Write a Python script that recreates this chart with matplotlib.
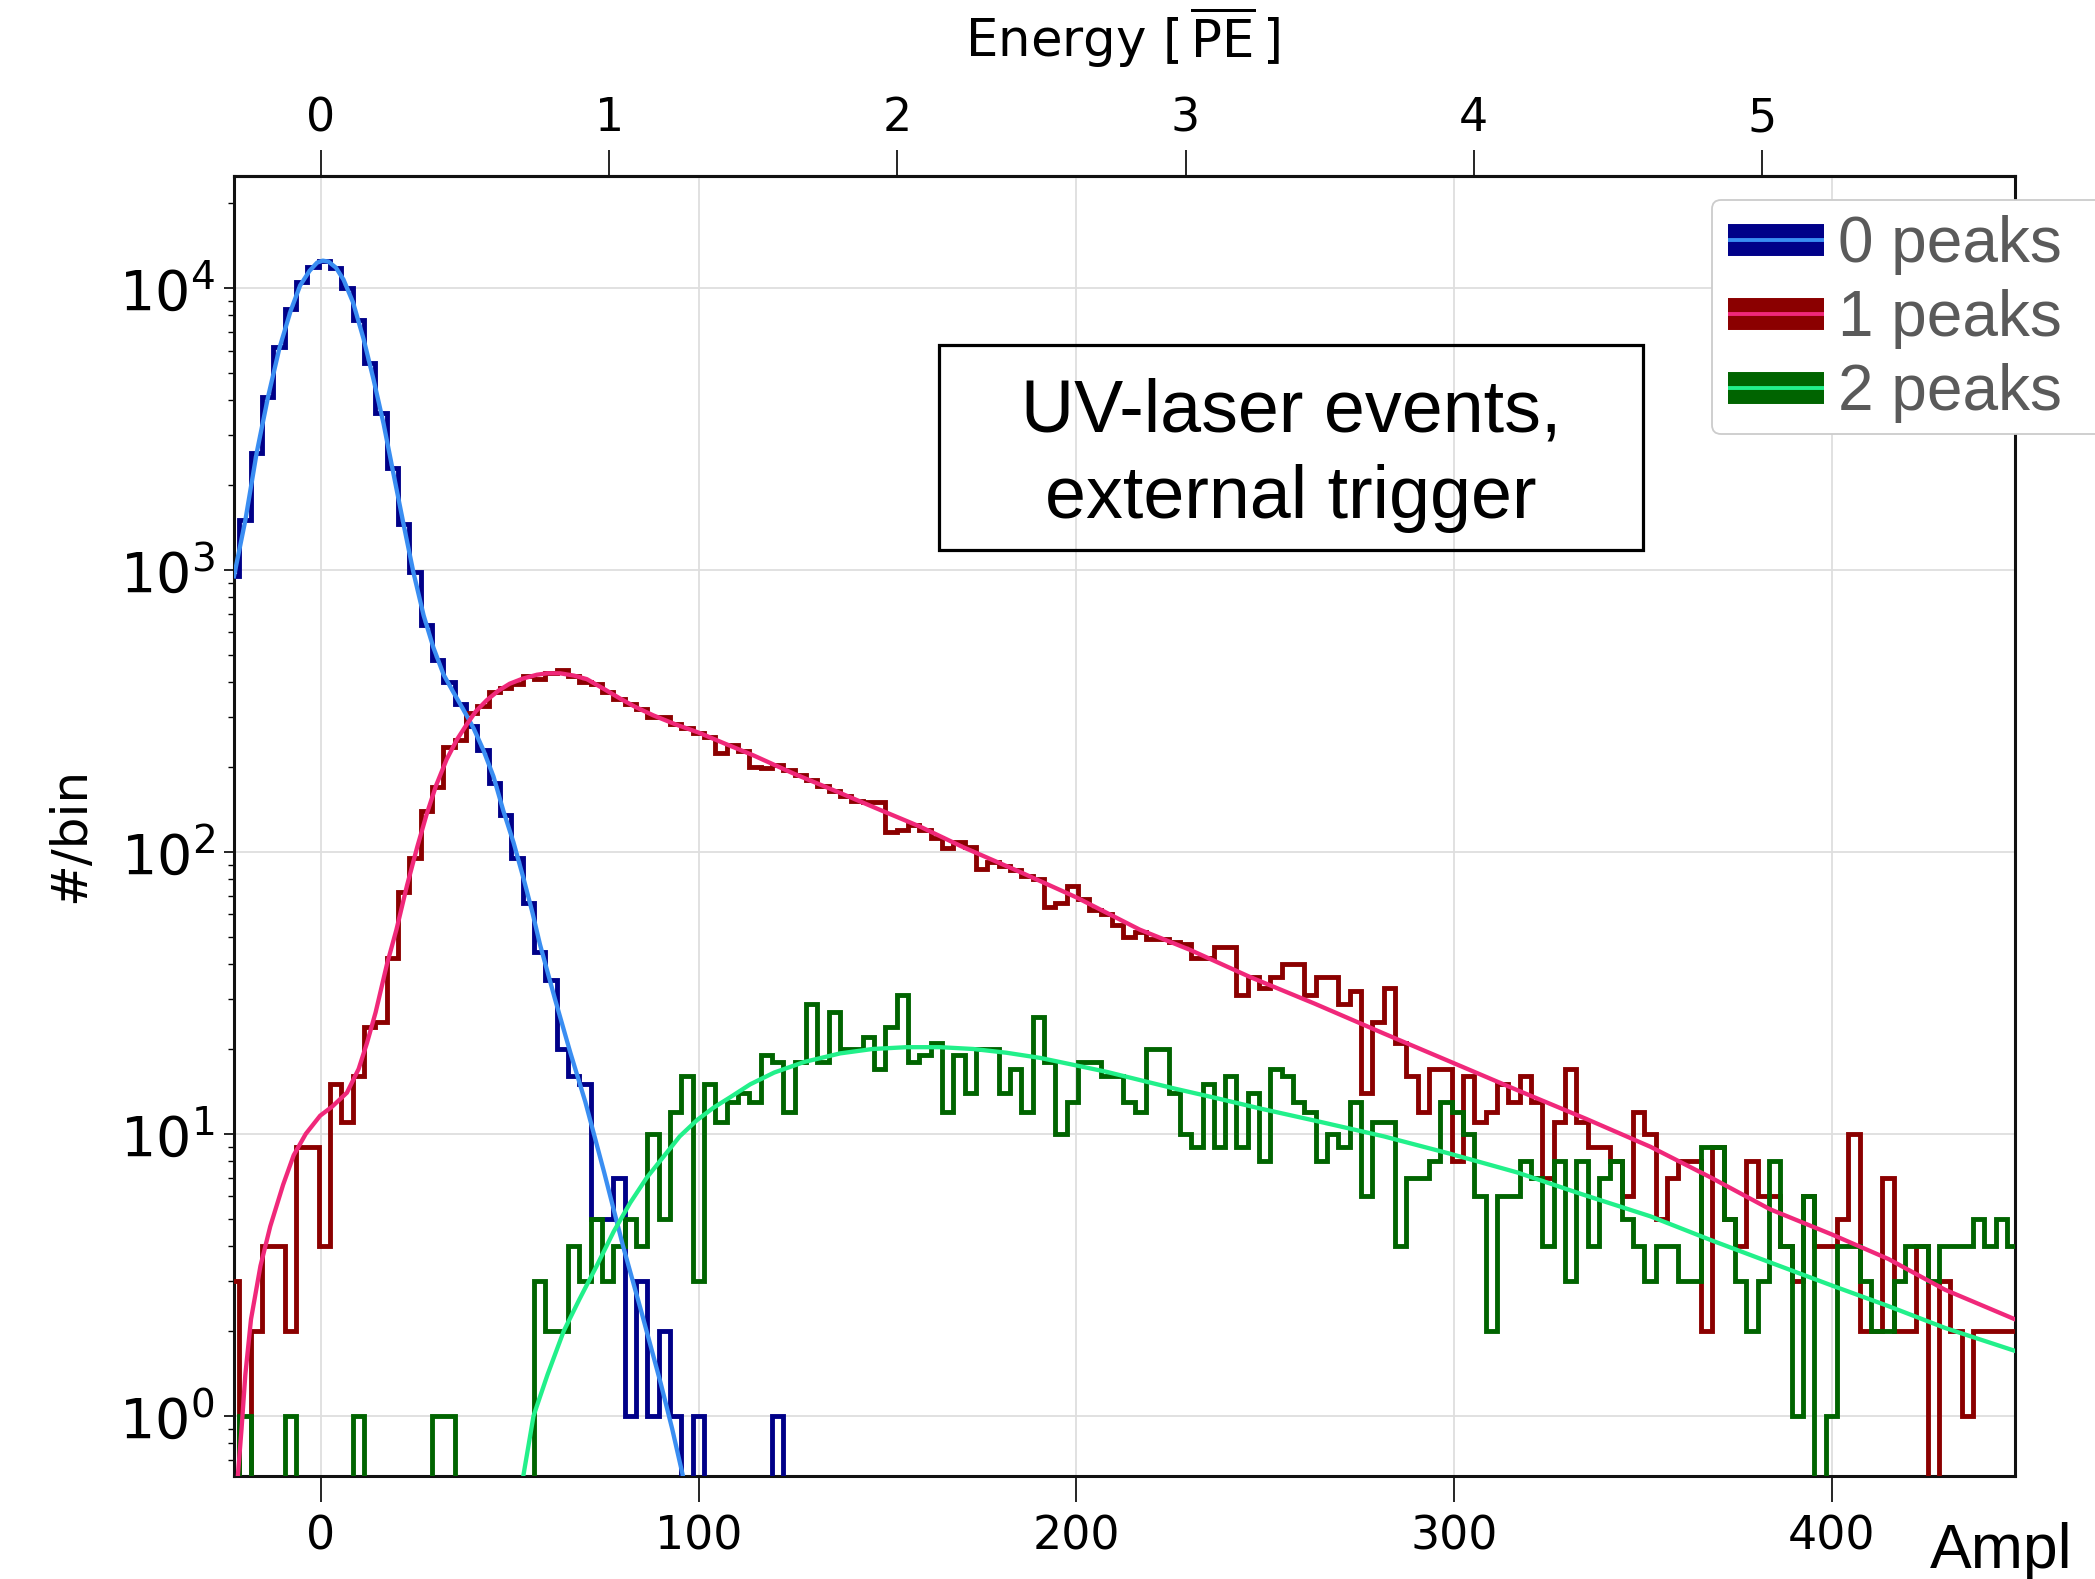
import numpy as np
import matplotlib
matplotlib.use("Agg")
import matplotlib.pyplot as plt
from matplotlib.lines import Line2D
from matplotlib.legend_handler import HandlerTuple
from matplotlib.patches import Rectangle, FancyBboxPatch
from matplotlib.transforms import IdentityTransform

W, H = 2095, 1579

# histogram binning (amplitude units)
first_edge, bin_width, n_bins = -24.6, 3.0, 158
pe_per_ampl = 76.3

labels = ["0 peaks", "1 peaks", "2 peaks"]
hist_colors = ["#000088", "#8b0000", "#006400"]
fit_colors = ["#3a8ef2", "#f0287a", "#22f08a"]

counts_0 = [950, 1500, 2600, 4100, 6200, 8400, 10500, 11900, 12500, 11800,
            10000, 7700, 5400, 3600, 2300, 1450, 980, 640, 480, 400,
            335, 280, 230, 175, 135, 95, 66, 44, 35, 20,
            16, 15, 5, 5, 7, 1, 3, 1, 2, 1,
            0, 1, 0, 0, 0, 0, 0, 0, 1, 0] + [0] * 108

counts_1 = [3, 0, 2, 4, 4, 2, 9, 9, 4, 15,
            11, 16, 24, 25, 42, 72, 95, 140, 170, 235,
            250, 310, 330, 370, 380, 395, 420, 410, 430, 440,
            420, 400, 395, 370, 350, 335, 320, 300, 300, 285,
            275, 265, 255, 225, 240, 228, 200, 198, 203, 196,
            188, 180, 172, 165, 158, 152, 150, 150, 118, 120,
            125, 120, 112, 103, 108, 104, 87, 92, 89, 86,
            82, 80, 64, 66, 76, 68, 62, 60, 55, 50,
            52, 49, 49, 48, 47, 42, 42, 46, 46, 31,
            36, 33, 36, 40, 40, 31, 36, 36, 29, 32,
            14, 25, 33, 21, 16, 12, 17, 17, 8, 16,
            11, 12, 15, 13, 16, 13, 7, 11, 17, 11,
            9, 9, 8, 6, 12, 10, 5, 7, 8, 8,
            2, 9, 5, 4, 8, 6, 6, 4, 3, 6,
            4, 4, 5, 10, 2, 2, 7, 2, 2, 4,
            0, 3, 2, 1, 2, 2, 2, 2]

counts_2 = [0, 1, 0, 0, 0, 1, 0, 0, 0, 0,
            0, 1, 0, 0, 0, 0, 0, 0, 1, 1,
            0, 0, 0, 0, 0, 0, 0, 3, 2, 2,
            4, 3, 5, 3, 4, 5, 4, 10, 5, 12,
            16, 3, 15, 11, 13, 14, 13, 19, 18, 12,
            18, 29, 18, 27, 20, 20, 22, 17, 24, 31,
            18, 19, 21, 12, 19, 14, 20, 20, 14, 17,
            12, 26, 18, 10, 13, 18, 18, 16, 16, 13,
            12, 20, 20, 14, 10, 9, 15, 9, 16, 9,
            14, 8, 17, 16, 13, 12, 8, 10, 9, 13,
            6, 11, 11, 4, 7, 7, 8, 13, 12, 10,
            6, 2, 6, 6, 8, 7, 4, 8, 3, 8,
            4, 7, 8, 5, 4, 3, 4, 4, 3, 3,
            9, 9, 5, 3, 2, 3, 8, 4, 1, 6,
            0, 1, 4, 4, 3, 2, 2, 3, 4, 4,
            3, 4, 4, 4, 5, 4, 5, 4]

# fitted curves
fit0_x = [-23, -20, -17, -14, -11, -8, -5.5, -3, -1, 0.5, 2, 4, 6, 8.5, 11.3, 14,
          16.6, 19.2, 21.9, 24.5, 27.2, 29.8, 32.5, 35, 37.7, 40.4, 43, 45.7, 48.3,
          51, 53.6, 56, 58, 62, 66, 70, 75, 80, 85, 90, 93, 96, 98]
fit0_y = [950, 1500, 2600, 4100, 6100, 8300, 10200, 11500, 12300, 12500, 12400,
          11800, 10700, 8900, 6600, 4700, 3300, 2200, 1450, 980, 690, 530, 425, 370,
          320, 275, 230, 185, 140, 108, 81, 61, 47, 30, 19.5, 13, 7.3, 4, 2.3, 1.3,
          0.9, 0.6, 0.5]

fit1_x = [-22.5, -21, -20, -18.5, -16, -13.4, -10, -7.2, -4, -0.2, 3, 6.9, 10, 12.2,
          14.5, 17.5, 20, 22.8, 25.5, 28, 30.5, 33.3, 36, 38.6, 41, 43.9, 47, 50, 53.5,
          57.2, 60, 63.3, 67, 70.4, 75, 79.2, 83, 88, 94, 100, 107, 114.5, 125, 137.4,
          148, 158.6, 170, 185, 200, 216.8, 230, 246, 263, 281.4, 300, 316.7, 335,
          352, 368, 383.7, 400, 415, 430, 448.5]
fit1_y = [0.5, 0.9, 1.4, 2.2, 3.4, 4.7, 6.6, 8.4, 10, 11.6, 12.5, 14, 17, 21, 27, 40,
          53, 76, 104, 136, 172, 213, 250, 283, 315, 345, 373, 395, 412, 425, 430,
          430, 422, 410, 378, 350, 328, 305, 283, 265, 242, 220, 190, 162, 141, 123,
          104, 85, 69, 53, 45, 36, 29, 22.7, 17.8, 14.3, 11.3, 9, 7, 5.4, 4.4, 3.6,
          2.8, 2.2]

fit2_x = [53, 56.3, 60, 64.3, 68.5, 73, 77.5, 81.9, 86.3, 90.7, 95, 99.6, 104, 108.4,
          113.7, 120, 128, 137.5, 146, 155, 164, 172.8, 181.5, 190.4, 199, 208, 217,
          225.8, 237, 248.7, 265, 281.4, 299, 316.7, 334, 352, 368, 383.7, 400, 415,
          430, 448.5]
fit2_y = [0.55, 1.0, 1.4, 2.0, 2.6, 3.4, 4.5, 5.7, 7.0, 8.3, 9.8, 11.2, 12.4, 13.5,
          15.0, 16.5, 18.0, 19.3, 20.0, 20.3, 20.3, 20.0, 19.4, 18.6, 17.6, 16.6, 15.5,
          14.5, 13.4, 12.3, 11.0, 9.8, 8.5, 7.3, 6.1, 5.1, 4.2, 3.5, 2.9, 2.45, 2.05,
          1.7]

edges = first_edge + bin_width * np.arange(n_bins + 1)

fig = plt.figure(figsize=(W / 100, H / 100), dpi=100)
ax = fig.add_axes([234 / W, 1 - 1476 / H, (2015 - 234) / W, (1476 - 176) / H])
ax.set_yscale("log")

floor = 1e-2
for counts, hc in zip([counts_0, counts_1, counts_2], hist_colors):
    v = np.clip(np.asarray(counts, float), floor, None)
    ax.stairs(v, edges, baseline=floor, color=hc, lw=3.5, zorder=3)
for fx, fy, fc in zip([fit0_x, fit1_x, fit2_x], [fit0_y, fit1_y, fit2_y], fit_colors):
    ax.plot(fx, fy, color=fc, lw=3.1, zorder=4, solid_joinstyle="round")

ax.set_xlim(-23.0, 448.5)
ax.set_ylim(0.612, 24950)
ax.set_xticks([0, 100, 200, 300, 400])
ax.grid(True, which="major", color="#dedede", lw=1.3)
ax.set_axisbelow(True)
for s in ax.spines.values():
    s.set_linewidth(2.2)
    s.set_color("#111111")

ax.tick_params(axis="x", which="major", direction="out", length=19, width=1.2,
               labelsize=33, pad=9)
ax.tick_params(axis="y", which="major", direction="out", length=7, width=1.2,
               labelsize=40, pad=7)
ax.tick_params(axis="y", which="minor", direction="out", length=4, width=1.0)

sec = ax.secondary_xaxis("top", functions=(lambda a: a / pe_per_ampl,
                                           lambda e: e * pe_per_ampl))
sec.set_xticks([0, 1, 2, 3, 4, 5])
sec.tick_params(axis="x", direction="out", length=19, width=1.2, labelsize=33, pad=6)
sec.spines["top"].set_linewidth(2.2)

fig.text(1122 / W, 1 - 57 / H, r"Energy [$\,\overline{\mathrm{PE}}\,$]", ha="center",
         va="baseline", fontsize=37)
ax.set_ylabel("#/bin", fontsize=36)
ax.yaxis.set_label_coords((94 - 234) / 1781, (1476 - 835) / 1300)

fig.text(1930 / W, 1 - 1568 / H, "Ampl", ha="left", va="baseline", fontsize=45,
         family="Liberation Sans", color="black")

# annotation box
fig.add_artist(Rectangle((939 / W, 1 - 550 / H), (1643 - 939) / W, (550 - 345) / H,
                         transform=fig.transFigure, fill=False, ec="black", lw=2.3,
                         zorder=6))
fig.text(1291 / W, 1 - 455 / H, "UV-laser events,\nexternal trigger", ha="center",
         va="center", fontsize=53, family="Liberation Sans", linespacing=1.32,
         zorder=6)

# legend background runs off the right edge of the figure
legend_bg = FancyBboxPatch((1712, H - 434), 440, 234, boxstyle="round,pad=0,rounding_size=9",
                           transform=IdentityTransform(), fc="white", ec="#cccccc", lw=1.3,
                           zorder=10)
fig.add_artist(legend_bg)

handles = []
for hc, fc in zip(hist_colors, fit_colors):
    thick = Line2D([], [], color=hc, lw=23, solid_capstyle="butt")
    thin = Line2D([], [], color=fc, lw=2.8, solid_capstyle="butt")
    handles.append((thick, thin))
leg = fig.legend(handles, labels, handler_map={tuple: HandlerTuple(ndivide=1, pad=0)},
                 loc="upper left", bbox_to_anchor=(1713 / W, 1 - 200 / H),
                 bbox_transform=fig.transFigure, prop={"family": "Liberation Sans", "size": 46},
                 labelcolor="#5a5a5a", handlelength=1.5, handletextpad=0.22,
                 labelspacing=0.22, borderpad=0.24, borderaxespad=0, frameon=False)
leg.set_zorder(11)

fig.savefig("out.png", dpi=100)
